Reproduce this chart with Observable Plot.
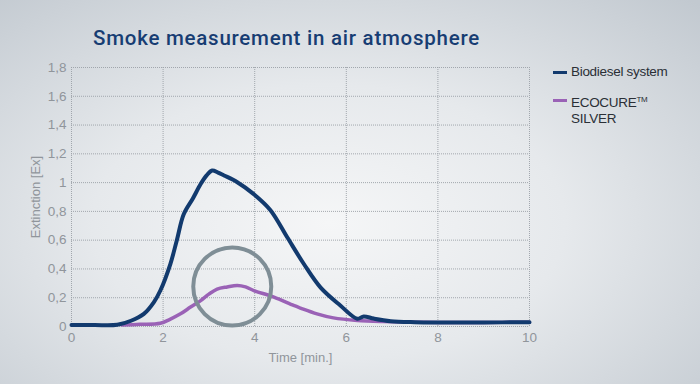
<!DOCTYPE html>
<html><head><meta charset="utf-8">
<script src="https://cdn.jsdelivr.net/npm/d3@7"></script>
<script src="https://cdn.jsdelivr.net/npm/@observablehq/plot@0.6"></script>
<style>
html,body{margin:0;padding:0;}
#wrap{position:relative;width:700px;height:384px;overflow:hidden;
 background:radial-gradient(ellipse 75% 80% at 47% 58%, #f5f6f7 0%, #e6e9ec 45%, #c2c9d0 100%);
 font-family:"Liberation Sans",Arial,sans-serif;}
#title{position:absolute;left:93px;top:26px;font-family:Roboto,"Liberation Sans",sans-serif;font-size:20.5px;font-weight:500;color:#173d73;letter-spacing:0.75px;}
#legend{position:absolute;left:553px;top:64px;font-size:13.5px;color:#2a2f36;line-height:16px;}
.item{position:relative;padding-left:18px;margin-bottom:12px;letter-spacing:-0.3px;}
.sw{position:absolute;left:0;top:7px;width:14px;height:3px;}
sup{font-size:8px;vertical-align:5px;}
#chart{position:absolute;left:0;top:0;}
</style></head>
<body>
<div id="wrap">
<div id="title">Smoke measurement in air atmosphere</div>
<div id="legend"></div>
<div id="chart"></div>
</div>
<script>
const seriesNames = ["Biodiesel system", "ECOCURE™ SILVER"];
const seriesColors = ["#123a6e", "#9a62b6"];
const bioT = [0, 0.5, 1.0, 1.3, 1.58, 1.8, 1.94, 2.16, 2.3, 2.45, 2.65, 2.82, 2.95, 3.07, 3.2, 3.33, 3.62, 3.98, 4.34, 4.71, 5.07, 5.44, 5.87, 6.24, 6.38, 6.6, 6.97, 7.5, 8, 9, 10];
const bioV = [0.01, 0.01, 0.012, 0.04, 0.088, 0.17, 0.25, 0.436, 0.6, 0.78, 0.89, 0.99, 1.05, 1.084, 1.07, 1.05, 1.003, 0.92, 0.81, 0.62, 0.436, 0.27, 0.146, 0.054, 0.07, 0.055, 0.037, 0.03, 0.028, 0.028, 0.03];
const ecoT = [1.1, 1.5, 1.94, 2.15, 2.38, 2.6, 2.82, 3.0, 3.18, 3.4, 3.62, 3.8, 3.98, 4.42, 4.85, 5.0, 5.36, 5.72, 6.24, 6.8, 7.5, 8, 9, 10];
const ecoV = [0.01, 0.015, 0.023, 0.05, 0.088, 0.135, 0.18, 0.225, 0.26, 0.275, 0.285, 0.275, 0.25, 0.204, 0.146, 0.128, 0.088, 0.06, 0.042, 0.034, 0.03, 0.028, 0.028, 0.03];
const circleT = [3.51];
const circleV = [0.278];
const xTicks = [0, 2, 4, 6, 8, 10];
const yTicks = [0, 0.2, 0.4, 0.6, 0.8, 1, 1.2, 1.4, 1.6, 1.8];

const bio = bioT.map((t, i) => ({t, v: bioV[i]}));
const eco = ecoT.map((t, i) => ({t, v: ecoV[i]}));
const circ = circleT.map((t, i) => ({t, v: circleV[i]}));
const fmt = v => String(+v.toFixed(1)).replace(".", ",");
const tickColor = "#90959b";

const chart = Plot.plot({
  width: 700, height: 384,
  marginLeft: 71, marginRight: 171, marginTop: 67, marginBottom: 58,
  style: {background: "transparent", fontFamily: "Liberation Sans, Arial, sans-serif", fontSize: "13px", color: tickColor},
  x: {domain: [0, 10], ticks: xTicks, tickSize: 0, tickPadding: 6, label: null},
  y: {domain: [0, 1.8], ticks: yTicks, tickSize: 0, tickPadding: 5, tickFormat: fmt, label: null},
  marks: [
    Plot.gridX(xTicks, {stroke: "#9aa0a6", strokeOpacity: 0.9, strokeDasharray: "1,1"}),
    Plot.gridY(yTicks, {stroke: "#9aa0a6", strokeOpacity: 0.9, strokeDasharray: "1,1"}),
    Plot.axisX({ticks: xTicks, tickSize: 0, tickPadding: 6, fill: tickColor, fontSize: 13.5}),
    Plot.axisY({ticks: yTicks, tickSize: 0, tickPadding: 5, tickFormat: fmt, fill: tickColor, fontSize: 13.5}),
    Plot.line(eco, {x: "t", y: "v", stroke: seriesColors[1], strokeWidth: 3.5, curve: "catmull-rom"}),
    Plot.line(bio, {x: "t", y: "v", stroke: seriesColors[0], strokeWidth: 4, curve: "catmull-rom"}),
    Plot.dot(circ, {x: "t", y: "v", r: 39, stroke: "#7f8e96", strokeWidth: 4, fill: "none"}),
    Plot.text(["Time [min.]"], {frameAnchor: "bottom", dy: 35, fill: tickColor, fontSize: 13}),
    Plot.text(["Extinction [Ex]"], {frameAnchor: "left", textAnchor: "middle", dx: -36, rotate: -90, fill: tickColor, fontSize: 13})
  ]
});
document.getElementById("chart").appendChild(chart);

const legend = document.getElementById("legend");
legend.innerHTML =
  `<div class="item"><span class="sw" style="background:${seriesColors[0]}"></span>${seriesNames[0]}</div>` +
  `<div class="item"><span class="sw" style="background:${seriesColors[1]}"></span>ECOCURE<sup>TM</sup><br>SILVER</div>`;
</script>
</body></html>
